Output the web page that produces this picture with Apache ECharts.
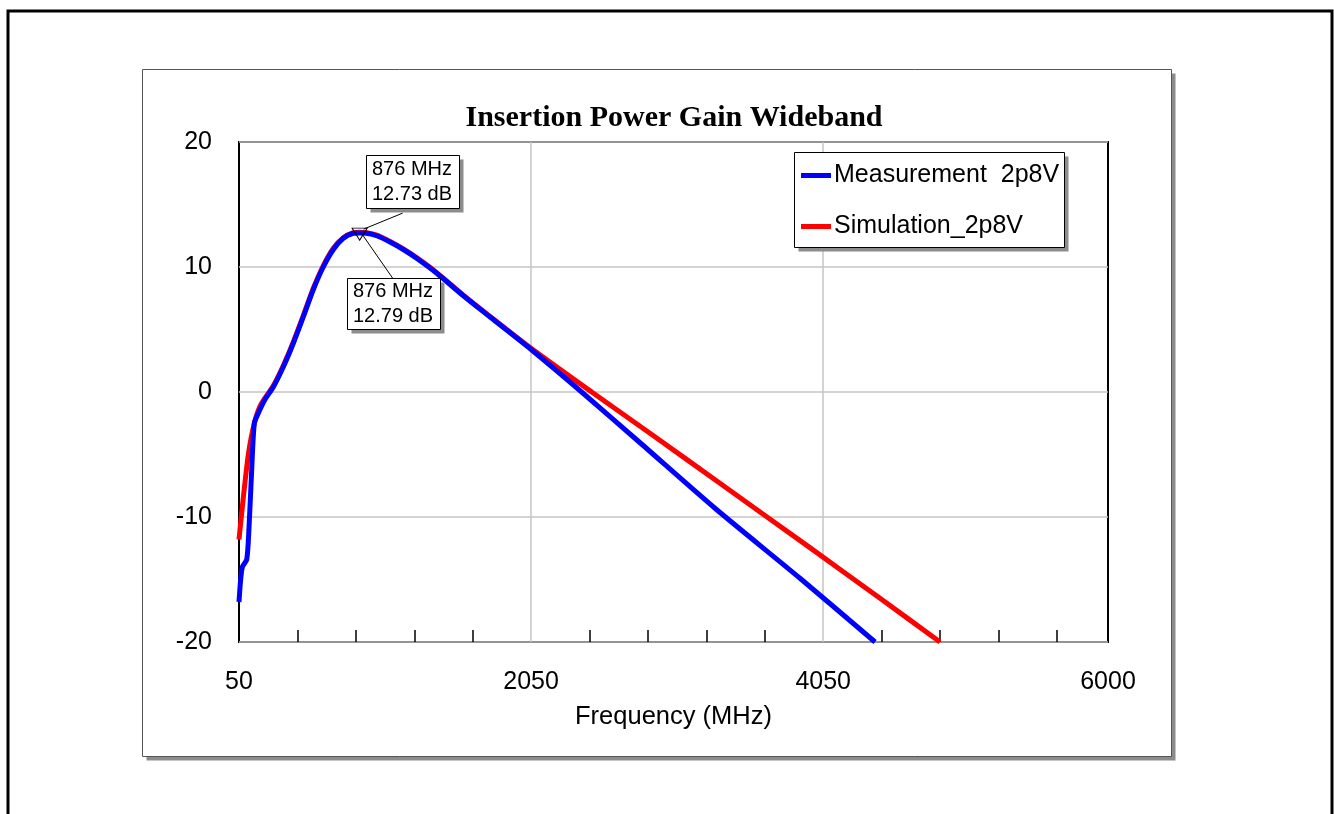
<!DOCTYPE html>
<html>
<head>
<meta charset="utf-8">
<script src="https://cdn.jsdelivr.net/npm/echarts@6/dist/echarts.min.js"></script>
<style>
  html, body { margin: 0; padding: 0; background: #fff; }
  #gain { width: 1334px; height: 814px; }
</style>
</head>
<body>
<div id="gain"></div>
<script>
// measured curve (MHz, dB)
const measFreq = [50, 60, 73, 103, 118, 137, 155, 182, 228, 285, 353, 422, 490, 559, 627, 696, 764, 833, 876, 924, 993, 1084, 1175, 1266, 1404, 1586, 1769, 2050, 2396, 2800, 3309, 3891, 4405];
const measGain = [-16.8, -15.2, -14.0, -13.4, -11.0, -6.2, -2.5, -1.7, -0.6, 0.4, 2.0, 3.9, 6.0, 8.2, 10.0, 11.4, 12.3, 12.7, 12.73, 12.7, 12.5, 12.0, 11.4, 10.7, 9.5, 7.7, 6.0, 3.4, 0.0, -4.1, -9.3, -14.9, -20.0];
// simulated curve (MHz, dB)
const simFreq = [50, 80, 115, 155, 200, 285, 353, 422, 490, 559, 627, 696, 764, 833, 876, 924, 993, 1084, 1175, 1266, 1404, 1586, 1769, 2050, 2465, 2900, 3343, 3959, 4439, 4850];
const simGain = [-11.8, -8.4, -4.9, -2.5, -1.0, 0.5, 2.1, 4.0, 6.1, 8.3, 10.1, 11.5, 12.35, 12.75, 12.79, 12.75, 12.55, 12.05, 11.45, 10.75, 9.55, 7.75, 6.05, 3.5, 0.0, -3.6, -7.3, -12.45, -16.5, -20.0];

const xLabelValues = [50, 2050, 4050, 6000];
const xGridValues = [2050, 4050];
const xMinorTicks = [450, 850, 1250, 1650, 2450, 2850, 3250, 3650, 4450, 4850, 5250, 5650];
const yMin = -20, yMax = 20, yStep = 10;

const markerFreq = 876;
const markerMeas = 12.73;
const markerSim = 12.79;

const measName = "Measurement  2p8V";
const simName = "Simulation_2p8V";

const toPairs = (xs, ys) => xs.map((x, i) => [x, ys[i]]);

let myChart = echarts.init(document.getElementById("gain"));
const font = "Liberation Sans, Arial, sans-serif";
const gridColor = "#c4c4c4";
const shadowGray = "#8c8c8c";

let option = {
  animation: false,
  textStyle: { fontFamily: font },
  grid: {
    left: 239,
    right: 226,
    top: 142,
    bottom: 172,
    show: true,
    borderColor: "#000",
    borderWidth: 2,
    backgroundColor: "transparent",
  },
  legend: {
    data: [measName, simName],
    orient: "vertical",
    left: 801,
    top: 163,
    padding: 0,
    itemGap: 26,
    itemWidth: 30,
    itemHeight: 5,
    icon: "rect",
    z: 6,
    textStyle: { fontSize: 25, color: "#000", fontFamily: font, padding: [0, 0, 0, -2] },
  },
  xAxis: [
    {
      type: "value",
      min: 50,
      max: 6000,
      name: "Frequency (MHz)",
      nameLocation: "middle",
      nameGap: 62,
      nameTextStyle: { fontSize: 25.5, color: "#000", fontFamily: font },
      axisLine: { show: false, onZero: false },
      axisTick: {
        show: true,
        inside: true,
        length: 12,
        customValues: xMinorTicks,
        lineStyle: { color: "#000", width: 1.5 },
      },
      axisLabel: {
        customValues: xLabelValues,
        formatter: (v) => String(v),
        fontSize: 25,
        color: "#000",
        margin: 28,
        showMinLabel: true,
        showMaxLabel: true,
      },
      splitLine: { show: false },
    },
    {
      type: "value",
      min: 50,
      max: 6000,
      position: "bottom",
      axisLine: { show: false, onZero: false },
      axisTick: { show: false, customValues: xGridValues },
      axisLabel: { show: false },
      splitLine: { show: true, lineStyle: { color: gridColor, width: 1.5 } },
    },
  ],
  yAxis: {
    type: "value",
    min: yMin,
    max: yMax,
    interval: yStep,
    axisLine: { show: false },
    axisTick: { show: false },
    axisLabel: { fontSize: 25, color: "#000", margin: 27 },
    splitLine: { show: true, lineStyle: { color: gridColor, width: 1.5 } },
  },
  series: [
    {
      name: simName,
      type: "line",
      data: toPairs(simFreq, simGain),
      showSymbol: false,
      smooth: 0.25,
      color: "#ff0000",
      lineStyle: { width: 5, color: "#ff0000" },
      z: 3,
    },
    {
      name: measName,
      type: "line",
      data: toPairs(measFreq, measGain),
      showSymbol: false,
      smooth: 0.25,
      color: "#0000ff",
      lineStyle: { width: 5, color: "#0000ff" },
      z: 4,
      markPoint: {
        silent: true,
        symbol: "triangle",
        symbolRotate: 180,
        symbolSize: [15, 12],
        symbolOffset: [0, 2],
        itemStyle: { color: "rgba(0,0,0,0)", borderColor: "#000", borderWidth: 1 },
        label: { show: false },
        data: [{ coord: [markerFreq, markerSim] }],
      },
    },
  ],
};
myChart.setOption(option);

// box with a flat offset shadow (shadow drawn as its own rect)
const shadowBox = (x, y, w, h, z, stroke) => [
  {
    type: "rect",
    z: z,
    silent: true,
    shape: { x: x + 4, y: y + 4, width: w, height: h },
    style: { fill: shadowGray },
  },
  {
    type: "rect",
    z: z + 0.5,
    silent: true,
    shape: { x: x, y: y, width: w, height: h },
    style: { fill: "#fff", stroke: stroke, lineWidth: 1 },
  },
];
const annText = (x, y, txt) => ({
  type: "text",
  z: 101,
  x: x,
  y: y,
  silent: true,
  style: { text: txt, font: "20px " + font, fill: "#000", lineHeight: 25, verticalAlign: "middle", align: "left" },
});

// annotations placed from the marker's pixel position
const p = myChart.convertToPixel({ gridIndex: 0 }, [markerFreq, markerSim]);
const px = Math.round(p[0]), py = Math.round(p[1]);

myChart.setOption({
  graphic: [
    {
      type: "rect",
      z: -10,
      silent: true,
      shape: { x: 8, y: 11, width: 1324, height: 900 },
      style: { fill: "none", stroke: "#000", lineWidth: 3 },
    },
    ...shadowBox(142.5, 69.5, 1029, 687, -9, "#555"),
    {
      type: "text",
      z: 5,
      x: 674,
      y: 118,
      silent: true,
      style: {
        text: "Insertion Power Gain Wideband",
        font: "bold 30px Liberation Serif, Times New Roman, serif",
        fill: "#000",
        align: "center",
        verticalAlign: "middle",
      },
    },
    // legend frame
    ...shadowBox(794.5, 152.5, 270, 95, 4, "#000"),
    // leader lines
    {
      type: "line",
      z: 99,
      silent: true,
      shape: { x1: p[0] + 43, y1: p[1] - 19, x2: p[0] + 4, y2: p[1] - 3 },
      style: { stroke: "#000", lineWidth: 1 },
    },
    {
      type: "line",
      z: 99,
      silent: true,
      shape: { x1: p[0] + 1, y1: p[1], x2: p[0] + 33, y2: p[1] + 46 },
      style: { stroke: "#000", lineWidth: 1 },
    },
    ...shadowBox(px + 6.5, py - 76.5, 93, 53, 100, "#000"),
    annText(px + 12, py - 50, markerFreq + " MHz\n" + markerMeas.toFixed(2) + " dB"),
    ...shadowBox(px - 12.5, py + 46.5, 93, 51, 100, "#000"),
    annText(px - 7, py + 72, markerFreq + " MHz\n" + markerSim.toFixed(2) + " dB"),
  ],
});

window.addEventListener("resize", function () {
  myChart.resize();
});
</script>
</body>
</html>
